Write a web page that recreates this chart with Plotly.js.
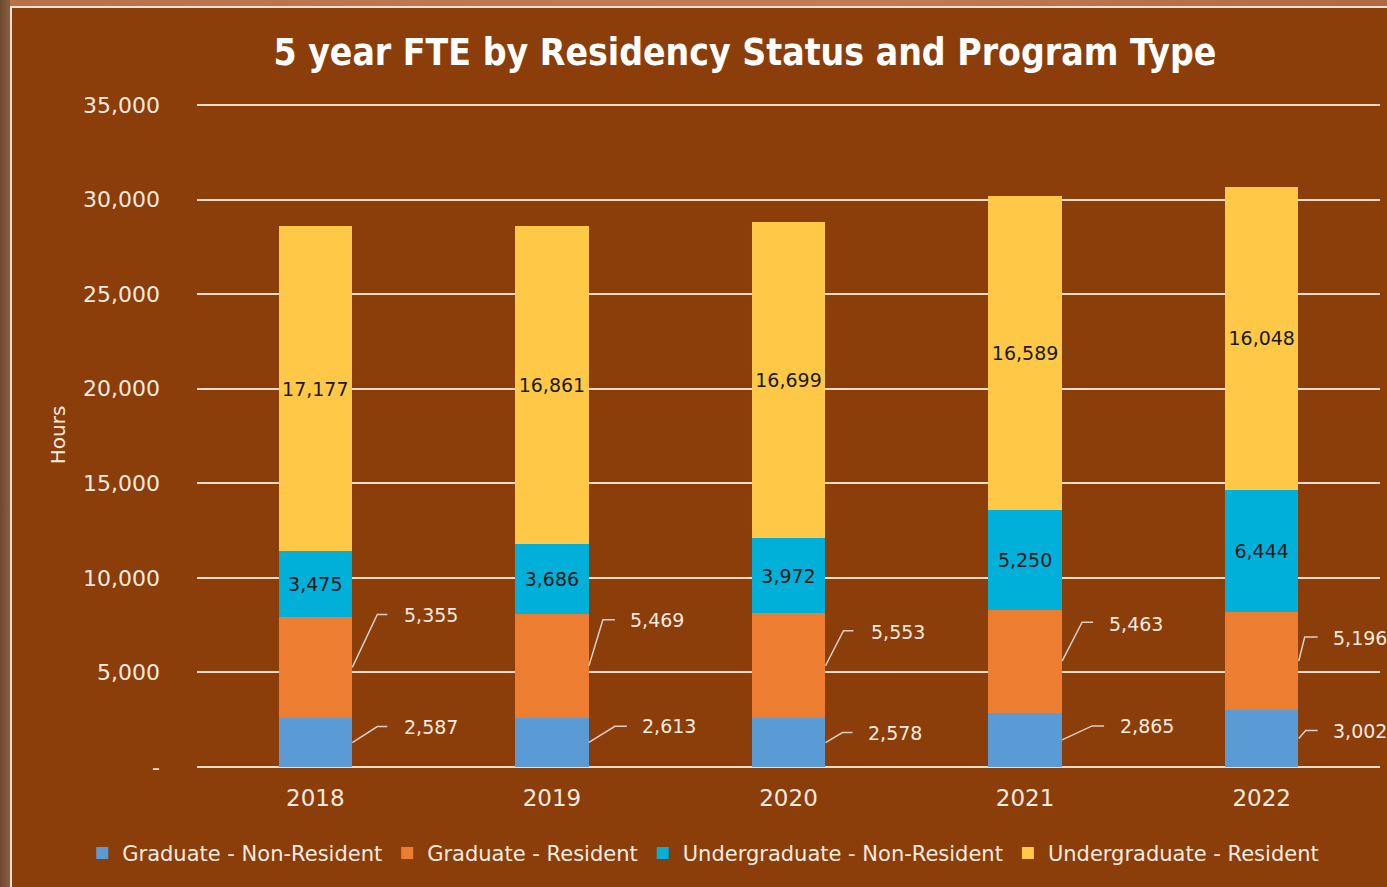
<!DOCTYPE html>
<html>
<head>
<meta charset="utf-8">
<script src="https://cdn.plot.ly/plotly-3.0.1.min.js"></script>
<style>
  html, body { margin: 0; padding: 0; width: 1387px; height: 887px; overflow: hidden;
    background: linear-gradient(90deg, #6e4a30 0px, #8a5d3c 10px, #b87248 10px, #c27d52 60%, #b06a42 100%); }
  #wrap { position: absolute; left: 10px; top: 6px; width: 1377px; height: 881px;
    box-sizing: border-box; border-left: 2px solid #ece2d8; border-top: 2px solid #ece2d8; background: #8b3e0a; }
  #chart { width: 1375px; height: 879px; }
</style>
</head>
<body>
<div id="wrap"><div id="chart"></div></div>
<script>
// ---- data ----
const years = [2018, 2019, 2020, 2021, 2022];
const gradNonRes = [2587, 2613, 2578, 2865, 3002];
const gradRes = [5355, 5469, 5553, 5463, 5196];
const ugNonRes = [3475, 3686, 3972, 5250, 6444];
const ugRes = [17177, 16861, 16699, 16589, 16048];
const seriesNames = ['Graduate - Non-Resident', 'Graduate - Resident', 'Undergraduate - Non-Resident', 'Undergraduate - Resident'];
const yTickVals = [0, 5000, 10000, 15000, 20000, 25000, 30000, 35000];
const yTickText = ['-', '5,000', '10,000', '15,000', '20,000', '25,000', '30,000', '35,000'];

// ---- style ----
const colors = ['#5b9bd5', '#ed7d31', '#00b0d8', '#ffc846'];
const cream = '#f6eadf';
const grid = '#f0dccb';
const bg = '#8b3e0a';
const numFont = 'DejaVu Sans, Verdana, sans-serif';

// leader-line placements (pixels relative to bar centre / segment middle): [bendX, bendY, endX, textX, textY]
const orangeLeader = [[62, 53, 72, 87, 52], [51, 46, 63, 76, 46], [55, 35, 65, 80, 34], [57, 39, 68, 82, 37], [43, 24, 56, 69, 23]];
const blueLeader = [[62, 16, 72, 87, 16], [63, 16, 75, 88, 16], [54, 10, 64, 77, 10], [67, 14, 79, 93, 14], [44, 8, 56, 69, 8]];
const halfBar = 37;

function fmt(v) { return v.toLocaleString('en-US'); }

const traces = [
  { y: gradNonRes, name: seriesNames[0], color: colors[0], inside: false },
  { y: gradRes, name: seriesNames[1], color: colors[1], inside: false },
  { y: ugNonRes, name: seriesNames[2], color: colors[2], inside: true },
  { y: ugRes, name: seriesNames[3], color: colors[3], inside: true }
].map(s => ({
  type: 'bar', x: years, y: s.y, name: s.name,
  marker: { color: s.color, line: { width: 0 } },
  text: s.inside ? s.y.map(fmt) : undefined,
  textposition: s.inside ? 'inside' : 'none',
  insidetextanchor: 'middle',
  textangle: 0,
  constraintext: 'none',
  textfont: { family: numFont, size: 19, color: '#1b1b1b' },
  hoverinfo: 'skip'
}));

const shapes = [];
const annotations = [];
function addLeaders(base, vals, placements) {
  years.forEach((yr, i) => {
    const mid = base[i] + vals[i] / 2;
    const p = placements[i];
    shapes.push({
      type: 'path', xref: 'x', yref: 'y', xsizemode: 'pixel', ysizemode: 'pixel',
      xanchor: yr, yanchor: mid,
      path: `M ${halfBar} 0 L ${p[0]} ${p[1]} L ${p[2]} ${p[1]}`,
      line: { color: '#d9cfc7', width: 1.5 }
    });
    annotations.push({
      x: yr, y: mid, xref: 'x', yref: 'y', xanchor: 'left', yanchor: 'middle',
      xshift: p[3], yshift: p[4], showarrow: false, text: fmt(vals[i]),
      font: { family: numFont, size: 19, color: cream }
    });
  });
}
addLeaders(years.map(() => 0), gradNonRes, blueLeader);
addLeaders(gradNonRes, gradRes, orangeLeader);

const layout = {
  width: 1375, height: 879,
  paper_bgcolor: bg, plot_bgcolor: bg,
  barmode: 'stack', bargap: 0.69,
  margin: { l: 185, r: 7, t: 95, b: 120 },
  title: {
    text: '5 year FTE by Residency Status and Program Type',
    font: { family: 'DejaVu Sans Condensed, Liberation Sans, Arial, sans-serif', size: 37, color: '#ffffff', weight: 'bold' },
    xref: 'container', x: 0.533, xanchor: 'center',
    yref: 'container', y: 0.95, yanchor: 'middle'
  },
  xaxis: {
    type: 'linear', range: [2017.5, 2022.5], tickvals: years, ticktext: years.map(String),
    showgrid: false, zeroline: false, showline: false, ticks: '',
    tickfont: { family: numFont, size: 23, color: cream }, ticklabelstandoff: 15
  },
  yaxis: {
    range: [0, 35110], tickvals: yTickVals, ticktext: yTickText,
    showgrid: true, gridcolor: grid, gridwidth: 2,
    zeroline: true, zerolinecolor: grid, zerolinewidth: 2, showline: false, ticks: '',
    tickfont: { family: numFont, size: 22, color: cream }, ticklabelstandoff: 36,
    title: { text: 'Hours', font: { family: numFont, size: 20, color: cream }, standoff: 12 }
  },
  legend: {
    orientation: 'h', xref: 'paper', x: -0.097, xanchor: 'left', y: -0.13, yanchor: 'middle',
    font: { family: numFont, size: 21, color: cream }, bgcolor: 'rgba(0,0,0,0)',
    traceorder: 'normal', itemclick: false, itemwidth: 30
  },
  showlegend: true,
  hovermode: false,
  shapes: shapes,
  annotations: annotations
};

Plotly.newPlot('chart', traces, layout, { displayModeBar: false, staticPlot: true });
</script>
</body>
</html>
